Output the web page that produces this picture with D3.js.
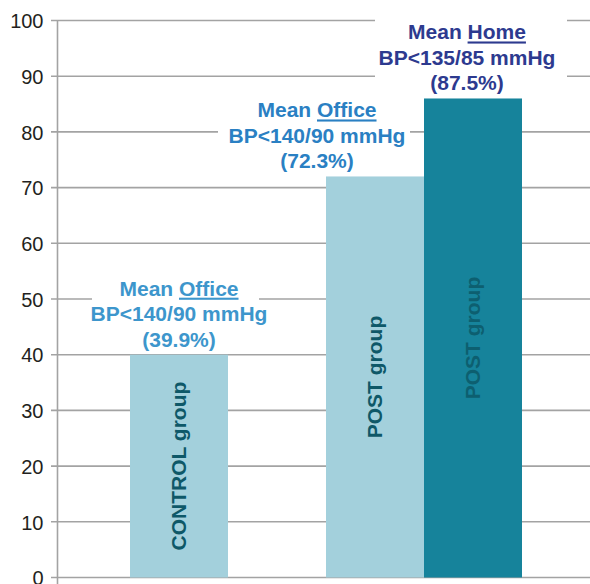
<!DOCTYPE html>
<html>
<head>
<meta charset="utf-8">
<script src="https://cdn.jsdelivr.net/npm/d3@7"></script>
<style>
  body { margin: 0; background: #fff; }
  svg { display: block; font-family: "Liberation Sans", Arial, Helvetica, sans-serif; }
</style>
</head>
<body>
<div id="chart"></div>
<script>
// data
var slots = ["control", "gap", "office", "home"];
var barSlots = ["control", "office", "home"];
var barNames = ["CONTROL group", "POST group", "POST group"];
var barValues = [40, 72, 86];
var labelKinds = ["Office", "Office", "Home"];
var labelRanges = ["BP<140/90 mmHg", "BP<140/90 mmHg", "BP<135/85 mmHg"];
var labelPcts = ["(39.9%)", "(72.3%)", "(87.5%)"];
var yTicks = [0, 10, 20, 30, 40, 50, 60, 70, 80, 90, 100];

var width = 590, height = 584;

var svg = d3.select("#chart").append("svg")
  .attr("width", width)
  .attr("height", height);

var y = d3.scaleLinear().domain([0, 100]).range([577.5, 20.5]);
var x = d3.scaleBand().domain(slots).range([130, 522]).padding(0);

var barFill = ["#a3d0dc", "#a3d0dc", "#16839b"];
var barText = ["#0e5868", "#0e5868", "#0d5f70"];
var labelFill = ["#3d96cc", "#2a80c3", "#2d3a8f"];
var labelDx = [0, -58, -6];
var boxes = [[92, 259], [218, 410], [375, 567]];

// grid lines
svg.append("g")
  .selectAll("line")
  .data(yTicks)
  .enter().append("line")
    .attr("x1", 51)
    .attr("x2", width)
    .attr("y1", d => y(d))
    .attr("y2", d => y(d))
    .attr("stroke", "#a3a3a3")
    .attr("stroke-width", 1.6);

// y axis
var axis = svg.append("g")
  .attr("transform", "translate(57.5,0)")
  .call(d3.axisLeft(y).tickValues(yTicks).tickSize(0).tickPadding(14));
axis.select(".domain").remove();
axis.selectAll("text")
  .attr("font-size", "20px")
  .attr("font-family", "'Liberation Sans', Arial, sans-serif")
  .attr("fill", "#231f20")
  .attr("dy", "0.36em");
svg.append("line")
  .attr("x1", 57.5).attr("x2", 57.5)
  .attr("y1", y(100)).attr("y2", height)
  .attr("stroke", "#a3a3a3")
  .attr("stroke-width", 1.6);

// white boxes behind the labels
svg.append("g")
  .selectAll("rect")
  .data(barValues)
  .enter().append("rect")
    .attr("x", (d, i) => boxes[i][0])
    .attr("width", (d, i) => boxes[i][1] - boxes[i][0])
    .attr("y", d => y(d) - 80)
    .attr("height", 76)
    .attr("fill", "#fff");

// bars
svg.append("g")
  .selectAll("rect")
  .data(barValues)
  .enter().append("rect")
    .attr("x", (d, i) => x(barSlots[i]))
    .attr("width", x.bandwidth())
    .attr("y", d => y(d))
    .attr("height", d => y(0) - y(d))
    .attr("fill", (d, i) => barFill[i]);

// bar names, rotated
svg.append("g")
  .selectAll("text")
  .data(barValues)
  .enter().append("text")
    .attr("transform", (d, i) => "translate(" + (x(barSlots[i]) + x.bandwidth() / 2 + 7) + "," + ((y(d) + y(0)) / 2) + ") rotate(-90)")
    .attr("text-anchor", "middle")
    .attr("font-size", "21px")
    .attr("font-weight", "bold")
    .attr("fill", (d, i) => barText[i])
    .text((d, i) => barNames[i]);

// labels above the bars
var labels = svg.append("g")
  .selectAll("text")
  .data(barValues)
  .enter().append("text")
    .attr("text-anchor", "middle")
    .attr("font-size", "21px")
    .attr("font-weight", "bold")
    .attr("fill", (d, i) => labelFill[i]);

labels.each(function(d, i) {
  var cx = x(barSlots[i]) + x.bandwidth() / 2 + labelDx[i];
  var top = y(d) - 59;
  var t = d3.select(this);
  var l1 = t.append("tspan").attr("x", cx).attr("y", top);
  l1.append("tspan").text("Mean ");
  l1.append("tspan").attr("text-decoration", "underline").text(labelKinds[i]);
  t.append("tspan").attr("x", cx).attr("y", top + 25.5).text(labelRanges[i]);
  t.append("tspan").attr("x", cx).attr("y", top + 51).text(labelPcts[i]);
});
</script>
</body>
</html>
